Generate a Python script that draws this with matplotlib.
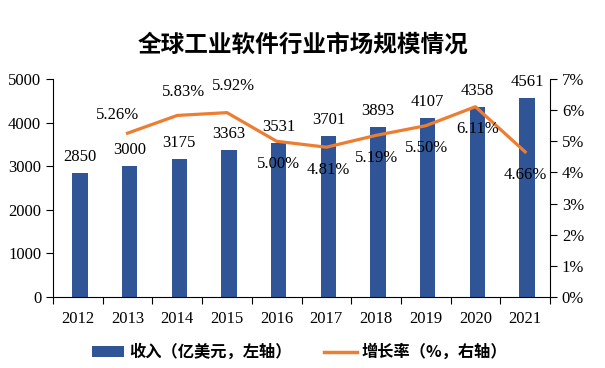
import matplotlib
matplotlib.use("Agg")
import matplotlib.pyplot as plt
from matplotlib.patches import Patch
from matplotlib.lines import Line2D
import numpy as np

years = ["2012", "2013", "2014", "2015", "2016", "2017", "2018", "2019", "2020", "2021"]
revenue = [2850, 3000, 3175, 3363, 3531, 3701, 3893, 4107, 4358, 4561]
growth_years = ["2013", "2014", "2015", "2016", "2017", "2018", "2019", "2020", "2021"]
growth = [5.26, 5.83, 5.92, 5.00, 4.81, 5.19, 5.50, 6.11, 4.66]

title = "全球工业软件行业市场规模情况"
bar_label = "收入（亿美元，左轴）"
line_label = "增长率（%，右轴）"

# label offsets in pixels (styling)
pct_offsets = [(-10, 18), (6, 23), (7, 27), (2, -23), (2, -23), (1, -23), (1, -22), (2, -22), (0, -23)]

BAR_C = "#2F5597"
LINE_C = "#ED7D31"
serif = ["Liberation Serif", "DejaVu Serif"]
cjk = ["Noto Sans CJK SC", "DejaVu Sans"]

fig = plt.figure(figsize=(6.05, 3.68), dpi=100)
ax = fig.add_axes([53/605, 71/368, 497/605, 218/368])
ax2 = ax.twinx()

x = np.arange(len(years))
ax.bar(x + 0.04, revenue, width=0.31, color=BAR_C, zorder=2)
ax.set_ylim(0, 5000)
ax.set_xlim(-0.5, len(years) - 0.5)
ax.set_yticks(range(0, 5001, 1000))
ax.set_xticks(x)
ax.set_xticklabels(years, fontfamily=serif, fontsize=12)
ax.tick_params(axis="x", length=0, pad=10)
ax.set_xticks(np.arange(-0.5, len(years)), minor=True)
ax.tick_params(axis="x", which="minor", length=5, direction="out", width=0.8)
ax.tick_params(axis="y", length=5, direction="out", width=0.8, labelsize=12)
for lbl in ax.get_yticklabels():
    lbl.set_fontfamily(serif)

for xi, v in zip(x, revenue):
    ax.annotate(f"{v}", (xi + 0.04, v), xytext=(0, 16), textcoords="offset pixels",
                ha="center", va="center", fontsize=12, fontfamily=serif, zorder=5)

gx = [years.index(y) for y in growth_years]
ax2.plot(gx, growth, color=LINE_C, lw=2.3, zorder=3)
ax2.set_ylim(0, 7)
ax2.set_yticks(range(0, 8))
ax2.set_yticklabels([f"{i}%" for i in range(0, 8)])
ax2.tick_params(axis="y", length=5, direction="out", width=0.8, labelsize=12)
for lbl in ax2.get_yticklabels():
    lbl.set_fontfamily(serif)
for xi, v, (dx, dy) in zip(gx, growth, pct_offsets):
    ax2.annotate(f"{v:.2f}%", (xi, v), xytext=(dx, dy), textcoords="offset pixels",
                 ha="center", va="center", fontsize=12, fontfamily=serif, zorder=6)

for a in (ax, ax2):
    a.spines["top"].set_visible(False)
    for s in ("left", "right", "bottom"):
        a.spines[s].set_color("black")
        a.spines[s].set_linewidth(0.8)
ax.spines["right"].set_visible(False)
ax2.spines["left"].set_visible(False)
ax2.spines["bottom"].set_visible(False)

fig.text(0.5, 1 - 45/368, title, ha="center", va="center", fontsize=17,
         fontweight="bold", fontfamily=cjk)

handles = [Patch(facecolor=BAR_C), Line2D([0], [0], color=LINE_C, lw=2.5)]
fig.legend(handles, [bar_label, line_label], loc="center", bbox_to_anchor=(0.495, 1 - 352/368),
           ncol=2, frameon=False, prop={"family": cjk, "weight": "bold", "size": 11.7},
           handlelength=2.0, handleheight=0.65, columnspacing=2.0, handletextpad=0.3)

fig.savefig("out.png", dpi=100)
